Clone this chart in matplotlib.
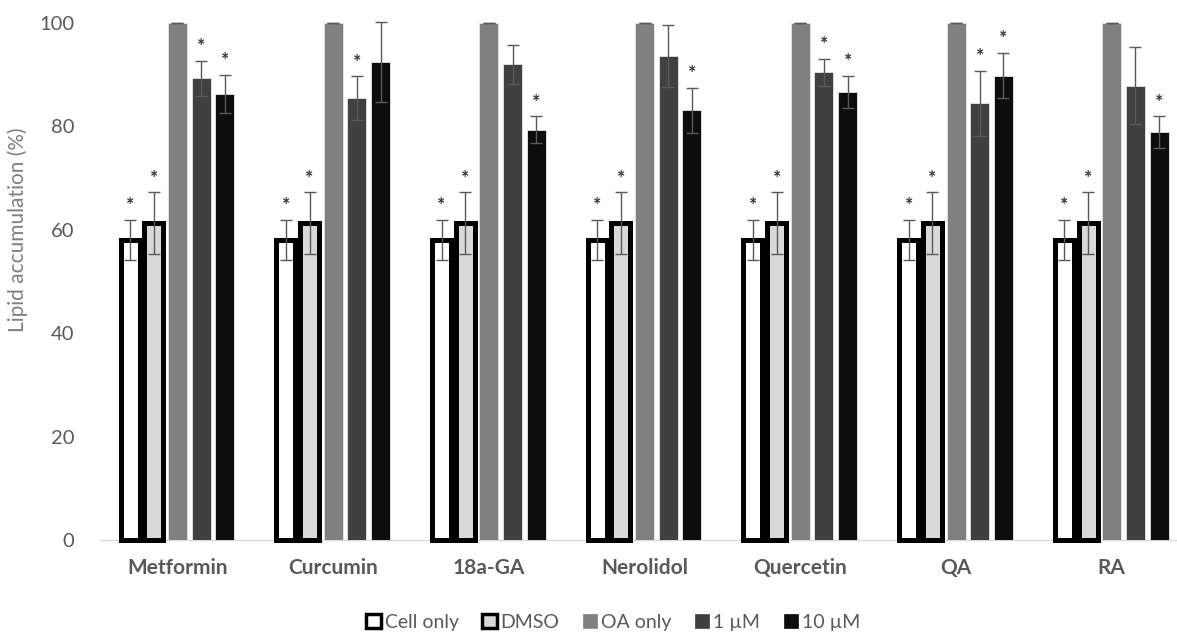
import matplotlib
matplotlib.use("Agg")
import matplotlib.pyplot as plt
from matplotlib.patches import Patch
import numpy as np

plt.rcParams['font.family'] = ['Lato', 'DejaVu Sans']

categories = ["Metformin", "Curcumin", "18a-GA", "Nerolidol", "Quercetin", "QA", "RA"]
series_names = ["Cell only", "DMSO", "OA only", "1 \u00b5M", "10 \u00b5M"]

cell_only = [58.0, 58.0, 58.0, 58.0, 58.0, 58.0, 58.0]
cell_only_err = [3.9, 3.9, 3.9, 3.9, 3.9, 3.9, 3.9]
dmso = [61.3, 61.3, 61.3, 61.3, 61.3, 61.3, 61.3]
dmso_err = [6.0, 6.0, 6.0, 6.0, 6.0, 6.0, 6.0]
oa_only = [100, 100, 100, 100, 100, 100, 100]
oa_only_err = [0, 0, 0, 0, 0, 0, 0]
um1 = [89.3, 85.5, 92.0, 93.7, 90.5, 84.5, 87.9]
um1_err = [3.4, 4.2, 3.8, 6.0, 2.6, 6.3, 7.4]
um10 = [86.3, 92.5, 79.4, 83.1, 86.7, 89.8, 78.9]
um10_err = [3.7, 7.7, 2.6, 4.4, 3.1, 4.4, 3.1]

# significance markers per series (True = asterisk)
sig_cell = [True] * 7
sig_dmso = [True] * 7
sig_oa = [False] * 7
sig_1 = [True, True, False, False, True, True, False]
sig_10 = [True, False, True, True, True, True, True]

values = [cell_only, dmso, oa_only, um1, um10]
errors = [cell_only_err, dmso_err, oa_only_err, um1_err, um10_err]
sigs = [sig_cell, sig_dmso, sig_oa, sig_1, sig_10]

faces = ["#ffffff", "#d9d9d9", "#808080", "#404040", "#0d0d0d"]
edges = ["#000000", "#000000", "#e6e6e6", "#e6e6e6", "#e6e6e6"]
lws = [3.6, 3.6, 0.6, 0.6, 0.6]

fig = plt.figure(figsize=(11.77, 6.32), dpi=100)
ax = fig.add_axes([99.6 / 1177, 92 / 632, 1090 / 1177, 517 / 632])

x = np.arange(len(categories))
slot = 0.152
width = 0.122
text_col = "#595959"

for j in range(5):
    xs = x + (j - 2) * slot
    ax.bar(xs, values[j], width=width, color=faces[j], edgecolor=edges[j],
           linewidth=lws[j], zorder=2 + j * 0.1, clip_on=False)
    ax.errorbar(xs, values[j], yerr=errors[j], fmt='none', ecolor="#595959",
                elinewidth=1.0, capsize=4.5, capthick=1.0, zorder=5, clip_on=False)
    for xi, v, e, s in zip(xs, values[j], errors[j], sigs[j]):
        if s:
            ax.annotate("*", (xi, v + e), xytext=(0, 4), textcoords="offset points",
                        ha="center", va="bottom", fontsize=14, color="#333333",
                        fontweight="bold")

ax.set_xlim(-0.5, len(categories) - 0.5)
ax.set_ylim(0, 100)
ax.set_yticks([0, 20, 40, 60, 80, 100])
ax.set_xticks(x)
ax.set_xticklabels(categories, fontsize=15, fontweight="bold", color=text_col)
ax.tick_params(axis='both', length=0, colors=text_col)
ax.tick_params(axis='y', labelsize=14.5, pad=18)
ax.tick_params(axis='x', pad=13)
ax.set_ylabel("Lipid accumulation (%)", fontsize=15, color="#7f7f7f")
ax.yaxis.set_label_coords(-0.066, 0.6)

for sp in ["top", "right", "left"]:
    ax.spines[sp].set_visible(False)
ax.spines["bottom"].set_color("#d9d9d9")
ax.spines["bottom"].set_linewidth(1.0)
ax.spines["bottom"].set_zorder(1)

handles = [Patch(facecolor=faces[j], edgecolor=("#000000" if j < 2 else faces[j]),
                 linewidth=(2.5 if j < 2 else 0.5)) for j in range(5)]
fig.legend(handles, series_names, loc="lower center", ncol=5,
           bbox_to_anchor=(0.521, -0.026), frameon=False, fontsize=14,
           handlelength=0.75, handleheight=0.75, handletextpad=0.2,
           columnspacing=1.2, labelcolor=text_col)

fig.savefig("out.png", dpi=100)
